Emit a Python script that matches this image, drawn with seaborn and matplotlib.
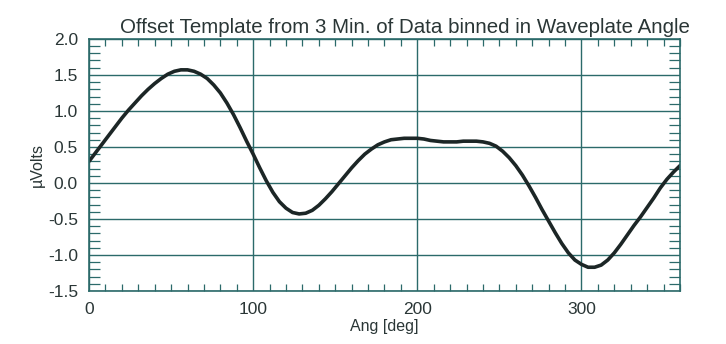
import matplotlib
matplotlib.use("Agg")
import matplotlib.pyplot as plt
from matplotlib.ticker import MultipleLocator
import seaborn as sns
import pandas as pd

# values (every 4 degrees)
ang = list(range(0, 361, 4))
volts = [0.30, 0.42, 0.54, 0.66, 0.78, 0.90, 1.01, 1.11, 1.21, 1.30,
         1.38, 1.45, 1.51, 1.55, 1.57, 1.57, 1.55, 1.51, 1.45, 1.36,
         1.25, 1.11, 0.95, 0.77, 0.58, 0.40, 0.21, 0.03, -0.13, -0.26,
         -0.35, -0.41, -0.43, -0.42, -0.38, -0.31, -0.22, -0.12, -0.01, 0.10,
         0.21, 0.31, 0.40, 0.47, 0.53, 0.57, 0.60, 0.61, 0.62, 0.62,
         0.62, 0.61, 0.59, 0.58, 0.57, 0.57, 0.57, 0.58, 0.58, 0.58,
         0.57, 0.55, 0.51, 0.44, 0.35, 0.24, 0.11, -0.04, -0.20, -0.37,
         -0.53, -0.69, -0.84, -0.97, -1.07, -1.13, -1.17, -1.17, -1.14, -1.07,
         -0.97, -0.85, -0.72, -0.59, -0.47, -0.34, -0.21, -0.07, 0.05, 0.15,
         0.24]

df = pd.DataFrame({"ang": ang, "volts": volts})

sns.set_style("white")
plt.rcParams['font.family'] = ['Liberation Sans', 'DejaVu Sans']

teal = "#2b6a6a"
ink = "#2a3636"

fig = plt.figure(figsize=(7.26, 3.44), dpi=100)
ax = fig.add_axes([0.1226, 0.154, 0.814, 0.733])

sns.lineplot(data=df, x="ang", y="volts", ax=ax, color="#1c2626", linewidth=2.6)

ax.set_xlim(0, 360)
ax.set_ylim(-1.5, 2.0)
ax.xaxis.set_major_locator(MultipleLocator(100))
ax.xaxis.set_minor_locator(MultipleLocator(10))
ax.yaxis.set_major_locator(MultipleLocator(0.5))
ax.yaxis.set_minor_locator(MultipleLocator(0.1))
ax.set_yticklabels([f"{v:.1f}" for v in ax.get_yticks()])

ax.grid(True, which="major", color=teal, linewidth=1.0)
ax.tick_params(which="both", direction="in", top=True, right=True,
               left=True, bottom=True,
               colors=teal, labelcolor=ink, labelsize=12.5)
ax.tick_params(axis="x", which="minor", length=5, width=0.9)
ax.tick_params(axis="y", which="minor", length=8, width=0.9)
ax.tick_params(which="major", length=0, pad=8)
for s in ax.spines.values():
    s.set_color(teal)
    s.set_linewidth(1.2)

ax.set_xlabel("Ang [deg]", fontsize=11.5, color=ink, labelpad=1)
ax.set_ylabel("\u00b5Volts", fontsize=11.5, color=ink, labelpad=2)
ax.set_title("Offset Template from 3 Min. of Data binned in Waveplate Angle",
             fontsize=14.8, color=ink, pad=4, x=0.534)

fig.savefig("out.png", dpi=100)
